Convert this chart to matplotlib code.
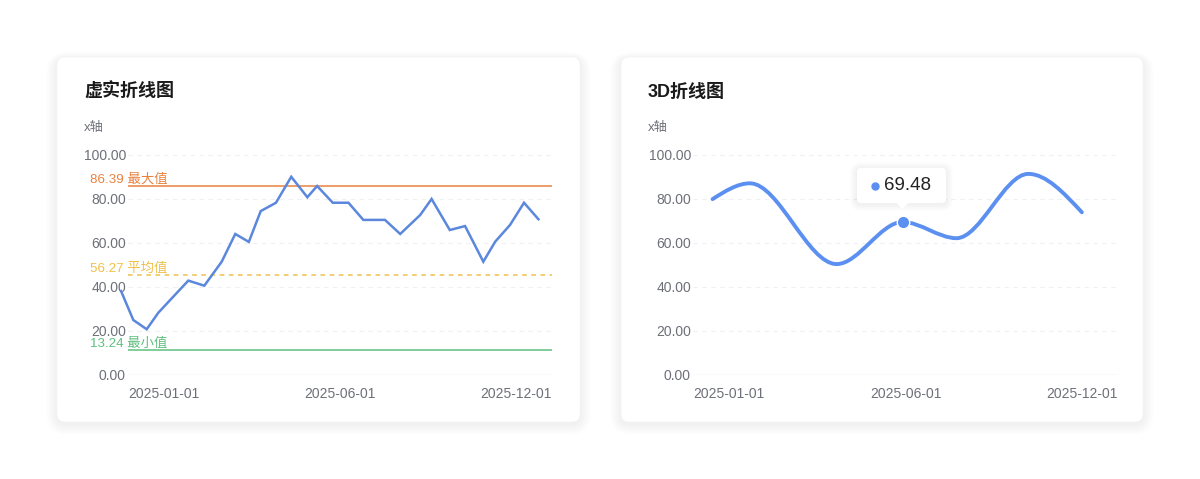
import numpy as np
import matplotlib.pyplot as plt
from matplotlib.patches import FancyBboxPatch, PathPatch
from matplotlib.path import Path

plt.rcParams['font.family'] = ['Liberation Sans', 'Noto Sans CJK SC', 'DejaVu Sans']

# data: left chart (x position on a 0..100 axis scale)
left_x = [-1.65, 1.25, 4.41, 7.15, 10.68, 14.22, 18.0, 22.1, 25.3, 28.5, 31.3, 34.9, 38.5,
          42.3, 44.6, 48.3, 52.0, 55.5, 60.6, 64.2, 68.9, 71.6, 75.9, 79.5, 83.8, 86.6,
          90.1, 93.4, 96.8]
left_y = [38.2, 25.0, 20.8, 28.3, 35.6, 42.9, 40.6, 51.5, 64.1, 60.5, 74.5, 78.3, 90.1,
          80.8, 85.9, 78.3, 78.3, 70.5, 70.5, 64.1, 72.7, 80.0, 65.9, 67.7, 51.5, 60.6,
          68.2, 78.3, 70.8]
mark_y = [85.9, 45.6, 11.4]
mark_text = ['86.39 最大值', '56.27 平均值', '13.24 最小值']

# data: right chart
right_x = [4.6, 13.4, 33.8, 49.3, 62.0, 78.9, 91.5]
right_y = [79.9, 87.1, 50.3, 69.48, 62.1, 91.4, 73.9]
hover_idx = 3

xtick_pos = [0, 50, 100]
xtick_labels = ['2025-01-01', '2025-06-01', '2025-12-01']
yticks = [0, 20, 40, 60, 80, 100]

W, H = 1200, 479
fig = plt.figure(figsize=(12, 4.79), dpi=100)
fig.patch.set_facecolor('white')

# background axes in pixel units for the cards
bg = fig.add_axes([0, 0, 1, 1], zorder=-1)
bg.set_xlim(0, W)
bg.set_ylim(H, 0)
bg.axis('off')

def card(x0, y0, x1, y1):
    for i in range(14, 0, -1):
        bg.add_patch(FancyBboxPatch((x0 - i * 0.8, y0 - i * 0.5 + 2), x1 - x0 + i * 1.6, y1 - y0 + i * 1.3,
                                    boxstyle='round,pad=0,rounding_size=%f' % (8 + i),
                                    fc='#000000', ec='none', alpha=0.0028))
    bg.add_patch(FancyBboxPatch((x0, y0), x1 - x0, y1 - y0,
                                boxstyle='round,pad=0,rounding_size=8', fc='white', ec='#f4f4f4', lw=0.5))

card(57, 57, 580, 422)
card(621, 57, 1143, 422)

def px_axes(x0, y0, x1, y1):
    return fig.add_axes([x0 / W, 1 - y1 / H, (x1 - x0) / W, (y1 - y0) / H])

def style(ax):
    ax.set_xlim(0, 100)
    ax.set_ylim(0, 100)
    ax.set_facecolor('none')
    for s in ax.spines.values():
        s.set_visible(False)
    ax.set_yticks(yticks)
    ax.set_yticklabels(['%.2f' % v for v in yticks])
    ax.set_xticks(xtick_pos)
    ax.set_xticklabels(xtick_labels)
    ax.tick_params(length=0, labelsize=10, labelcolor='#6e7079')
    ax.tick_params(axis='y', pad=1.5)
    ax.tick_params(axis='x', pad=9)
    labs = ax.get_xticklabels()
    labs[0].set_ha('left')
    labs[-1].set_ha('right')
    for v in yticks[1:]:
        ax.axhline(v, color='#eef0f3', lw=0.8, ls=(0, (4, 4)), zorder=0)
    ax.axhline(0, color='#dfe3ea', lw=1.0, zorder=1)

# left chart
ax1 = px_axes(128, 155, 552, 375)
style(ax1)
mark_colors = ['#e8823f', '#efc04a', '#5fbf7f']
mark_ls = ['-', (0, (3, 3)), '-']
for v, t, c, ls in zip(mark_y, mark_text, mark_colors, mark_ls):
    ax1.axhline(v, color=c, lw=1.1, ls=ls, zorder=2)
    ax1.annotate(t, xy=(0, v), xycoords=('axes fraction', 'data'), xytext=(-27.5, 2.2),
                 textcoords='offset points', fontsize=9.6, color=c, va='baseline', ha='left')
ax1.plot(left_x, left_y, color='#5b87dc', lw=1.8, clip_on=False, zorder=3, solid_joinstyle='miter')

# right chart
ax2 = px_axes(693, 155, 1118, 374.5)
style(ax2)

def monotone_path(xs, ys):
    xs = np.asarray(xs, float)
    ys = np.asarray(ys, float)
    h = np.diff(xs)
    s = np.diff(ys) / h
    n = len(xs)
    m = np.zeros(n)
    for i in range(1, n - 1):
        if s[i - 1] * s[i] <= 0:
            m[i] = 0
        else:
            p = (s[i - 1] * h[i] + s[i] * h[i - 1]) / (h[i - 1] + h[i])
            m[i] = np.sign(s[i]) * min(abs(s[i - 1]), abs(s[i]), 0.5 * abs(p)) * 2
    m[0] = (3 * s[0] - m[1]) / 2
    m[-1] = (3 * s[-1] - m[-2]) / 2
    verts = [(xs[0], ys[0])]
    codes = [Path.MOVETO]
    for i in range(n - 1):
        d = h[i] / 3
        verts += [(xs[i] + d, ys[i] + m[i] * d), (xs[i + 1] - d, ys[i + 1] - m[i + 1] * d), (xs[i + 1], ys[i + 1])]
        codes += [Path.CURVE4] * 3
    return Path(verts, codes)

ax2.add_patch(PathPatch(monotone_path(right_x, right_y), fc='none', ec='#5b8ff0', lw=2.8,
                        capstyle='round', zorder=3))
hx, hy = right_x[hover_idx], right_y[hover_idx]
ax2.plot([hx], [hy], 'o', ms=9, color='#5b8ff0', mec='white', mew=1.0, zorder=5)

# tooltip box (pixel coordinates)
bg2 = fig.add_axes([0, 0, 1, 1], zorder=5)
bg2.set_xlim(0, W)
bg2.set_ylim(H, 0)
bg2.axis('off')
tx0, ty0, tx1, ty1 = 857, 168, 946, 203
for i in range(7, 0, -1):
    bg2.add_patch(FancyBboxPatch((tx0 - i, ty0 - i + 1), tx1 - tx0 + 2 * i, ty1 - ty0 + 2 * i,
                                 boxstyle='round,pad=0,rounding_size=%f' % (4 + i),
                                 fc='black', ec='none', alpha=0.007))
bg2.add_patch(FancyBboxPatch((tx0, ty0), tx1 - tx0, ty1 - ty0, boxstyle='round,pad=0,rounding_size=4',
                             fc='white', ec='none'))
bg2.fill([896, 909, 902.5], [ty1 - 0.5, ty1 - 0.5, 209], color='white', ec='none')
bg2.plot([874.5], [185.5], 'o', ms=5, color='#5b8ff0')
bg2.text(884, 186, '%.2f' % hy, fontsize=13.5, color='#222222', va='center', ha='left')

# titles
for x, title in [(84, '虚实折线图'), (648, '3D折线图')]:
    fig.text(x / W, 1 - 92 / H, title, fontsize=13, fontweight='bold', color='#1a1a1a', va='center')
    fig.text(x / W, 1 - 128 / H, 'x轴', fontsize=9.5, color='#6e7079', va='center')

fig.savefig('out.png', dpi=100, facecolor='white')
